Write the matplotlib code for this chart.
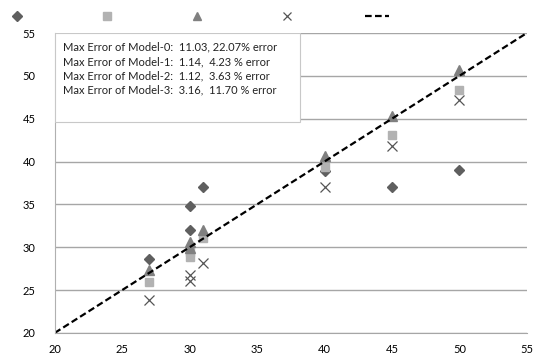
import numpy as np
import matplotlib.pyplot as plt
from matplotlib.patches import Rectangle

plt.rcParams['font.family'] = ['Lato', 'DejaVu Sans']

# actual values (x) and predictions of each model
actual = [27, 30, 30, 31, 40, 45, 50]
model0 = [28.6, 34.8, 32.0, 37.0, 38.9, 37.0, 39.0]
model1 = [25.9, 29.4, 28.8, 31.1, 39.4, 43.1, 48.4]
model2 = [27.3, 30.6, 29.9, 32.0, 40.7, 45.3, 50.7]
model3 = [23.8, 26.8, 26.0, 28.1, 37.0, 41.8, 47.2]
ideal = [20, 55]

notes = [
    "Max Error of Model-0:  11.03, 22.07% error",
    "Max Error of Model-1:  1.14,  4.23 % error",
    "Max Error of Model-2:  1.12,  3.63 % error",
    "Max Error of Model-3:  3.16,  11.70 % error",
]

fig = plt.figure(figsize=(5.37, 3.63), dpi=100)
ax = fig.add_axes([0.102, 0.083, 0.879, 0.826])

ax.plot(actual, model0, 'D', color='#5f5f5f', ms=5.5, ls='none', label=' ')
ax.plot(actual, model1, 's', color='#b2b2b2', ms=6, ls='none', label=' ')
ax.plot(actual, model2, '^', color='#808080', ms=7, ls='none', label=' ')
ax.plot(actual, model3, 'x', color='#555555', ms=7, mew=0.9, ls='none', label=' ')
ax.plot(ideal, ideal, '--', color='black', lw=1.6, dashes=(3, 1.5), label=' ')

ax.set_xlim(20, 55)
ax.set_ylim(20, 55)
ax.set_xticks(np.arange(20, 56, 5))
ax.set_yticks(np.arange(20, 56, 5))
ax.yaxis.grid(True, color='#a6a6a6', lw=1)
ax.set_axisbelow(True)
ax.tick_params(length=0, labelsize=8, pad=8)
ax.tick_params(axis='y', pad=14)
for s in ['top', 'right']:
    ax.spines[s].set_visible(False)
ax.spines['left'].set_color('#b0b0b0')
ax.spines['bottom'].set_color('#a6a6a6')

# note box
ax.add_patch(Rectangle((0, 0.703), 0.519, 0.297, transform=ax.transAxes,
                       facecolor='white', edgecolor='#c8c8c8', lw=0.8, zorder=5))
for i, t in enumerate(notes):
    ax.text(0.017, 0.953 - i * 0.048, t, transform=ax.transAxes, fontsize=8,
            va='center', ha='left', color='#222222', zorder=6)

fig.legend(loc='upper left', bbox_to_anchor=(-0.01, 0.998), ncol=5, frameon=False,
           handlelength=2.2, columnspacing=5.45, handletextpad=0.2, fontsize=8,
           markerscale=0.85)

fig.savefig('out.png', dpi=100)
